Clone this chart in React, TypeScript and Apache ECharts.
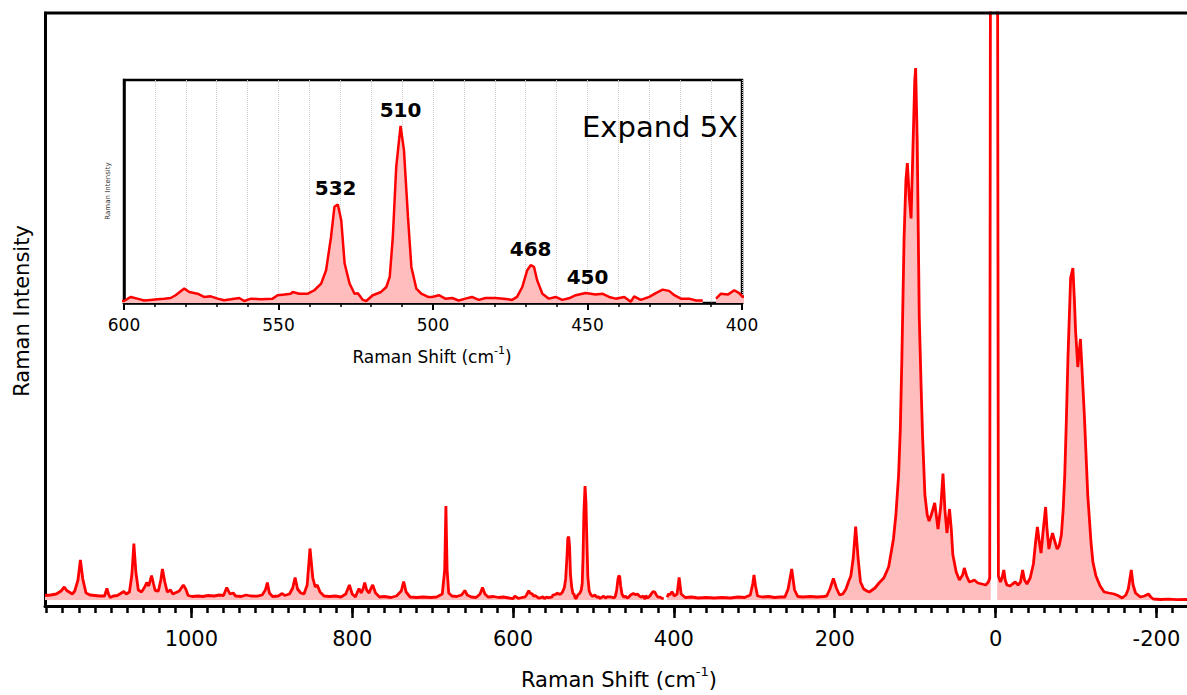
import React, { useEffect, useRef } from "react";
import * as echarts from "echarts";

// Raman spectrum: [shift (cm-1), intensity]; null = gap in the trace
const spectrum: [number, number | null][] = [
  [1182, 45], [1175, 50], [1168, 60], [1162, 90], [1158, 130], [1155, 95], [1151, 75], [1148, 60],
  [1145, 90], [1141, 200], [1138, 400], [1135, 210], [1131, 70], [1126, 50], [1120, 45], [1114, 40],
  [1108, 40], [1105, 115], [1103, 60], [1101, 25], [1097, 40], [1092, 45], [1087, 70], [1084, 85],
  [1081, 60], [1077, 80], [1074, 250], [1071.5, 565], [1069, 280], [1066, 100], [1062, 80], [1058, 130],
  [1055.5, 175], [1053, 140], [1049.5, 245], [1047, 160], [1045, 95], [1041, 90], [1038, 200], [1036, 310],
  [1033, 180], [1030, 80], [1026, 100], [1023, 60], [1019, 75], [1015, 90], [1010, 150], [1007, 110],
  [1004, 45], [999, 35], [992, 40], [986, 35], [979, 45], [972, 40], [965, 50], [960, 45], [956, 125],
  [952, 60], [948, 70], [945, 40], [938, 35], [932, 50], [926, 40], [918, 38], [912, 50], [908, 100],
  [905.5, 175], [903, 70], [899, 35], [892, 40], [887, 65], [884, 45], [878, 60], [874, 120], [871, 225],
  [868, 110], [864, 70], [860, 60], [856, 150], [852.5, 515], [849, 220], [846, 130], [843.5, 150],
  [840, 80], [835, 40], [828, 35], [821, 40], [814, 30], [808, 60], [803.5, 150], [800, 60], [796, 30],
  [793, 90], [791.5, 115], [789, 70], [786.5, 110], [784.5, 175], [782, 100], [779, 70], [777, 110],
  [774.5, 150], [771, 70], [766, 30], [760, 35], [752, 25], [745, 40], [739, 90], [736, 185], [733, 80],
  [728, 30], [720, 25], [712, 30], [703, 25], [695, 30], [688, 60], [685, 300], [683.5, 940], [682, 300],
  [680, 70], [676, 40], [670, 35], [664, 50], [660, 95], [657, 50], [652, 30], [646, 25], [641, 60],
  [638, 125], [635, 60], [631, 30], [624, 35], [618, 25], [612, 30], [605, 20],
  [600, 13], [597.8, 39], [595.7, 28], [593.5, 16], [591.4, 20], [589.2, 24], [587, 28], [584.9, 32],
  [583.3, 50], [580.5, 93], [578.9, 71], [576.2, 60], [574.1, 39], [571.9, 43], [569.7, 28], [567.6, 18],
  [565.4, 24], [562.7, 32], [561.1, 13], [558.9, 28], [555.7, 24], [551.9, 28], [550.3, 50], [548.1, 54],
  [546, 60], [545.4, 71], [543.3, 60], [540.5, 60], [538.4, 82], [536.2, 125], [534.6, 211], [533, 425],
  [531.9, 619], [530.8, 634], [529.7, 533], [528.6, 254], [527, 125], [525.4, 60], [524.3, 62], [522.7, 20],
  [521.6, 13], [519.5, 50], [516.8, 71], [515.1, 103], [514, 168], [513, 425], [511.9, 876], [510.5, 1140],
  [509.4, 984], [508.1, 554], [507, 232], [505.4, 93], [503.8, 60], [501.6, 39], [500.3, 39], [498.1, 50],
  [496, 28], [493.8, 32], [491.7, 16], [489.5, 28], [487.4, 39], [485.2, 20], [483, 32], [479.8, 32],
  [477.1, 28], [474.4, 20], [472.8, 39], [471.1, 103], [469.5, 211], [468.4, 243], [467.3, 232], [466.3, 146],
  [464.6, 60], [462.5, 28], [460.3, 39], [458.2, 20], [456, 30], [453.8, 50], [450.6, 64], [447.4, 54],
  [445.2, 60], [443, 39], [440.9, 28], [438.1, 39], [436, 8], [434.9, 43], [432.8, 20], [430, 39],
  [427.9, 64], [425.7, 86], [423.6, 78], [421.9, 50], [419.8, 28], [417.1, 28], [414.9, 16], [412.7, 16],
  [410.5, null], [408.4, 28], [406.8, 60], [404.6, 54], [402.5, 82], [400.9, 64], [399.8, 39],
  [396, 60], [393.5, 225], [391, 60], [386, 25], [378, 30], [370, 20], [360, 25], [350, 20], [340, 25],
  [330, 20], [320, 30], [312, 25], [305, 50], [302, 160], [300.4, 250], [298.5, 140], [296, 40], [290, 30],
  [282, 35], [275, 25], [268, 30], [262, 30], [258, 110], [253.5, 310], [250, 100], [246, 35], [240, 30],
  [230, 35], [222, 30], [214, 35], [210, 40], [206, 110], [201.7, 215], [198, 120], [194, 50], [190, 60],
  [186, 110], [183, 180], [180, 240], [177, 420], [174, 735], [171, 420], [168, 180], [164, 110], [160, 90],
  [157, 80], [150, 120], [145, 170], [139, 220], [133, 330], [127, 610], [124, 850], [120.6, 1250],
  [118.5, 1700], [116.5, 2430], [113.8, 3620], [111.5, 4200], [109.7, 4370], [107.5, 4050], [105.1, 3815],
  [102.5, 4600], [100.5, 5200], [99.4, 5320], [97.5, 4600], [94.9, 2830], [92.5, 2100], [90.8, 1640],
  [87.9, 1050], [85, 850], [82.7, 790], [80, 850], [75.7, 970], [73, 800], [71.6, 710], [68, 950],
  [65.4, 1265], [63, 900], [60.5, 670], [57.3, 910], [55, 700], [53.2, 455], [49, 280], [45, 200],
  [41, 250], [38.9, 320], [36, 240], [32.7, 180], [29, 190], [26.5, 200], [22, 170], [17, 160], [12.3, 150],
  [9, 180], [7.3, 220], [6.0, 9000], [2, null], [-2.0, 9000], [-3.5, 240], [-6, 180], [-8, 220],
  [-10.2, 300], [-12, 200], [-14, 150], [-18, 140], [-21, 160], [-24.5, 180], [-28, 150], [-31, 180],
  [-33.6, 300], [-36, 200], [-39, 160], [-43, 220], [-47, 360], [-50, 600], [-52, 730], [-54, 600],
  [-56.5, 470], [-59, 680], [-62.2, 930], [-64, 700], [-66.3, 510], [-68.5, 600], [-70.8, 670], [-73.5, 590],
  [-76.5, 510], [-79, 540], [-81.8, 650], [-84, 900], [-86, 1250], [-88, 1800], [-90, 2430], [-93.3, 3220],
  [-96.1, 3320], [-98, 3000], [-99.4, 2700], [-102.2, 2330], [-105.5, 2610], [-107.5, 2300], [-110.4, 1840],
  [-114.6, 1050], [-118.7, 570], [-121, 380], [-124.8, 240], [-130, 140], [-135, 80], [-141, 70],
  [-147.3, 60], [-152, 45], [-157.4, 20], [-162, 50], [-165, 110], [-168.7, 300], [-171, 150], [-174, 70],
  [-180, 30], [-185, 40], [-190, 60], [-193, 30], [-196, 10], [-205, 5], [-215, 8], [-225, 3], [-238, 5],
];

// Main axis
const mainXMin = -238;
const mainXMax = 1182;
const mainYMin = -60;
const mainYMax = 5870;
const mainMajorTicks = [1000, 800, 600, 400, 200, 0, -200];
const mainMinorStep = 20;

// Inset (expanded 600–400 cm-1 window)
const insetXMin = 400;
const insetXMax = 600;
const insetYMax = 1435;
const peakLabelText = ["532", "510", "468", "450"];
const peakLabelShift = [531.5, 510.5, 468.4, 450];
const peakLabelHeight = [634, 1140, 243, 64];

const FONT = "DejaVu Sans";
const RED = "#ff0000";
const PINK = "#ffbdbd";

export default function App() {
  const ref = useRef<HTMLDivElement>(null);

  useEffect(() => {
    if (!ref.current) return;
    const chart = echarts.init(ref.current, undefined, { renderer: "svg" });

    const minorTicks: number[] = [];
    for (let v = Math.ceil(mainXMin / mainMinorStep) * mainMinorStep; v <= mainXMax; v += mainMinorStep) {
      minorTicks.push(v);
    }

    const seriesData = spectrum.map(([x, y]) => [x, y === null ? "-" : y]);

    const option: any = {
      animation: false,
      backgroundColor: "#ffffff",
      grid: [
        { left: 45, right: 0, top: 13, bottom: 89, show: false },
        {
          left: 124, right: 445, top: 80, bottom: 392,
          show: true, backgroundColor: "#ffffff", borderColor: "#000", borderWidth: 2.5, z: 5,
        },
      ],
      xAxis: [
        {
          gridIndex: 0, type: "value", min: mainXMin, max: mainXMax, inverse: true, position: "bottom",
          axisLine: { show: true, onZero: false, lineStyle: { color: "#000", width: 3 } },
          axisTick: { show: true, customValues: minorTicks, length: 7, lineStyle: { color: "#000", width: 2.5 } },
          axisLabel: { show: false },
          splitLine: { show: false },
        },
        {
          gridIndex: 0, type: "value", min: mainXMin, max: mainXMax, inverse: true, position: "bottom",
          axisLine: { show: false, onZero: false },
          axisTick: { show: true, customValues: mainMajorTicks, length: 12, lineStyle: { color: "#000", width: 2.5 } },
          axisLabel: {
            show: true, customValues: mainMajorTicks, margin: 22, fontSize: 21, fontFamily: FONT, color: "#000",
            formatter: (v: number) => String(v),
          },
          splitLine: { show: false },
        },
        {
          gridIndex: 1, type: "value", min: insetXMin, max: insetXMax, interval: 50, inverse: true,
          position: "bottom", z: 6,
          axisLine: { show: true, onZero: false, lineStyle: { color: "#000", width: 2.5 } },
          axisTick: { show: true, length: 7, lineStyle: { color: "#000", width: 2 } },
          minorTick: { show: true, splitNumber: 5, length: 4, lineStyle: { color: "#000", width: 1.5 } },
          axisLabel: {
            show: true, margin: 13, fontSize: 17, fontFamily: FONT, color: "#000",
            formatter: (v: number) => String(v),
          },
          splitLine: { show: true, lineStyle: { color: "#cfcfcf", width: 1, type: "dotted" } },
          minorSplitLine: { show: true, lineStyle: { color: "#cfcfcf", width: 1, type: "dotted" } },
        },
      ],
      yAxis: [
        {
          gridIndex: 0, type: "value", min: mainYMin, max: mainYMax,
          axisLine: { show: true, onZero: false, lineStyle: { color: "#000", width: 3 } },
          axisTick: { show: false }, axisLabel: { show: false }, splitLine: { show: false },
        },
        {
          gridIndex: 1, type: "value", min: 0, max: insetYMax, z: 6,
          axisLine: { show: true, onZero: false, lineStyle: { color: "#000", width: 2.5 } },
          axisTick: { show: false }, axisLabel: { show: false }, splitLine: { show: false },
        },
      ],
      series: [
        {
          type: "line", xAxisIndex: 0, yAxisIndex: 0, data: seriesData, showSymbol: false,
          symbol: "none", clip: true, connectNulls: false,
          lineStyle: { color: RED, width: 2.8 }, itemStyle: { color: RED },
          areaStyle: { color: PINK, opacity: 1 },
        },
        {
          type: "line", xAxisIndex: 2, yAxisIndex: 1, data: seriesData, showSymbol: false,
          symbol: "none", clip: true, connectNulls: false, z: 7,
          lineStyle: { color: RED, width: 2.5 }, itemStyle: { color: RED },
          areaStyle: { color: PINK, opacity: 1 },
        },
        {
          type: "scatter", xAxisIndex: 2, yAxisIndex: 1, symbolSize: 0, z: 8,
          itemStyle: { opacity: 1, color: "#000" },
          data: peakLabelShift.map((s, i) => ({ value: [s, peakLabelHeight[i]], name: peakLabelText[i] })),
          label: {
            show: true, position: "top", distance: 6, formatter: (p: any) => p.name,
            fontSize: 20, fontWeight: "bold", fontFamily: FONT, color: "#000", opacity: 1,
          },
        },
      ],
      graphic: [
        {
          type: "line", shape: { x1: 44, y1: 13, x2: 1187, y2: 13 },
          style: { stroke: "#000", lineWidth: 3 }, z: 10,
        },
        {
          type: "text", x: 22, y: 311, rotation: Math.PI / 2,
          style: { text: "Raman Intensity", fontSize: 21, fontFamily: FONT, fill: "#000", align: "center", verticalAlign: "middle" },
        },
        {
          type: "text", x: 619, y: 680,
          style: {
            text: "{b|Raman Shift (cm}{s|-1}{b|)}", align: "center", verticalAlign: "middle", fill: "#000",
            rich: {
              b: { fontSize: 21, fontFamily: FONT, lineHeight: 30, verticalAlign: "middle", fill: "#000" },
              s: { fontSize: 13, fontFamily: FONT, lineHeight: 14, verticalAlign: "top", fill: "#000" },
            },
          },
        },
        {
          type: "text", x: 432, y: 357, z: 20,
          style: {
            text: "{b|Raman Shift (cm}{s|-1}{b|)}", align: "center", verticalAlign: "middle", fill: "#000",
            rich: {
              b: { fontSize: 17, fontFamily: FONT, lineHeight: 24, verticalAlign: "middle", fill: "#000" },
              s: { fontSize: 11, fontFamily: FONT, lineHeight: 12, verticalAlign: "top", fill: "#000" },
            },
          },
        },
        {
          type: "text", x: 108, y: 191, rotation: Math.PI / 2, z: 20,
          style: { text: "Raman Intensity", fontSize: 7, fontFamily: FONT, fill: "#333", align: "center", verticalAlign: "middle" },
        },
        {
          type: "text", x: 738, y: 127, z: 20,
          style: { text: "Expand 5X", fontSize: 29, fontFamily: FONT, fill: "#000", align: "right", verticalAlign: "middle" },
        },
      ],
    };

    chart.setOption(option);
    return () => chart.dispose();
  }, []);

  return (
    <div
      ref={ref}
      style={{ position: "fixed", left: 0, top: 0, width: "1187px", height: "695px", background: "#fff" }}
    />
  );
}
